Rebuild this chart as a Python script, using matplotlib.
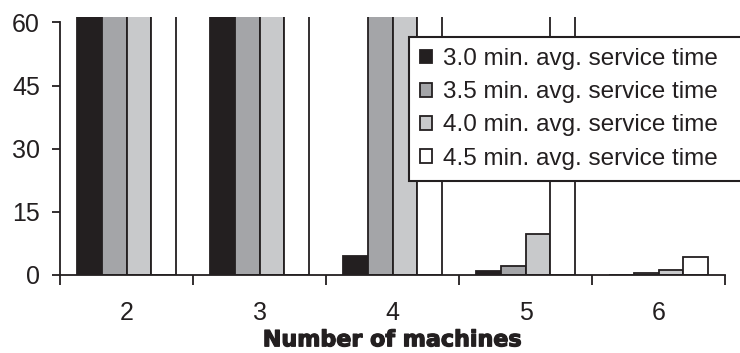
import matplotlib
matplotlib.use("Agg")
import matplotlib.pyplot as plt
import matplotlib.patheffects as pe
import numpy as np

plt.rcParams['font.family'] = ['Liberation Sans', 'DejaVu Sans']

machines = ["2", "3", "4", "5", "6"]
series_labels = ["3.0 min. avg. service time", "3.5 min. avg. service time",
                 "4.0 min. avg. service time", "4.5 min. avg. service time"]
# values above 60 are off the chart (clipped at the top)
s30 = [100, 100, 4.4, 1.0, 0.0]
s35 = [100, 100, 100, 2.1, 0.4]
s40 = [100, 100, 100, 9.7, 1.3]
s45 = [100, 100, 100, 100, 4.2]
series = [s30, s35, s40, s45]
colors = ["#231f20", "#a4a5a8", "#c8c9cb", "#ffffff"]
yticks = [0, 15, 30, 45, 60]

ink = "#231f20"
fig = plt.figure(figsize=(7.4, 3.53), dpi=100)
ax = fig.add_axes([60/740, 1 - 275/353, 665/740, 258/353])

x = np.arange(len(machines))
w = 0.186
for i, (vals, c, lab) in enumerate(zip(series, colors, series_labels)):
    ax.bar(x + (i - 1.5) * w, vals, width=w, color=c, edgecolor=ink,
           linewidth=1.3, label=lab, zorder=2)

ax.set_xlim(-0.5, len(machines) - 0.5)
ax.set_ylim(0, 61.3)
for s in ["top", "right"]:
    ax.spines[s].set_visible(False)
ax.spines["left"].set_bounds(0, 60)
for s in ["left", "bottom"]:
    ax.spines[s].set_color(ink)
    ax.spines[s].set_linewidth(1.3)

ax.set_yticks(yticks)
ax.set_yticklabels([str(v) for v in yticks])
ax.tick_params(axis="y", direction="out", length=6, width=1.3, color=ink,
               pad=8.5, labelsize=18, labelcolor=ink)
ax.set_xticks(x)
ax.set_xticklabels(machines)
ax.tick_params(axis="x", which="major", length=0, pad=19, labelsize=18, labelcolor=ink)
ax.set_xticks(np.arange(-0.5, len(machines)), minor=True)
ax.tick_params(axis="x", which="minor", direction="out", length=7, width=1.3, color=ink)

xl = ax.set_xlabel("Number of machines", fontsize=16, fontweight="heavy",
                   family="DejaVu Sans", color=ink, labelpad=3.5)
xl.set_path_effects([pe.withStroke(linewidth=0.9, foreground=ink)])

leg = ax.legend(loc="upper left", bbox_to_anchor=(0.525, 0.0, 0.52, 0.922),
                mode="expand", fontsize=17.5,
                frameon=True, fancybox=False, borderaxespad=0, handlelength=0.5,
                handleheight=0.5, handletextpad=0.45, labelspacing=0.46,
                borderpad=0.45, labelcolor=ink)
leg.get_frame().set_edgecolor(ink)
leg.get_frame().set_linewidth(1.5)
leg.get_frame().set_alpha(1)
leg.set_zorder(5)

fig.savefig("out.png", dpi=100)
